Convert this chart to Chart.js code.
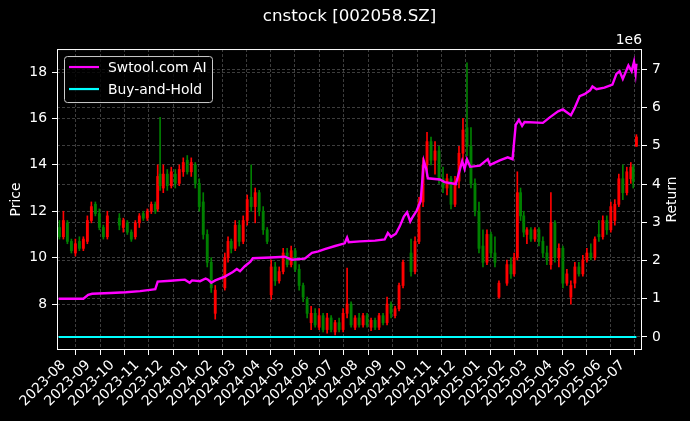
<!DOCTYPE html>
<html>
<head>
<meta charset="utf-8">
<script src="https://cdn.jsdelivr.net/npm/chart.js@4.4.0/dist/chart.umd.min.js"></script>
<style>
html, body { margin: 0; padding: 0; background: #000; }
canvas { display: block; }
</style>
</head>
<body>
<canvas id="myChart" width="690" height="421"></canvas>
<script>
// candles (price, left axis)
var candleDates = [
  '2023-07-27','2023-08-01','2023-08-06','2023-08-11','2023-08-16','2023-08-21','2023-08-26','2023-08-31',
  '2023-09-05','2023-09-10','2023-09-15','2023-09-20','2023-09-25','2023-10-10','2023-10-15','2023-10-20',
  '2023-10-25','2023-10-30','2023-11-04','2023-11-09','2023-11-14','2023-11-19','2023-11-24','2023-11-27',
  '2023-11-30','2023-12-04','2023-12-09','2023-12-14','2023-12-19','2023-12-24','2023-12-29','2024-01-03',
  '2024-01-08','2024-01-13','2024-01-18','2024-01-23','2024-01-28','2024-02-02','2024-02-07','2024-02-19',
  '2024-02-23','2024-02-27','2024-03-03','2024-03-08','2024-03-13','2024-03-18','2024-03-23','2024-03-28',
  '2024-04-02','2024-04-07','2024-04-12','2024-04-17','2024-04-22','2024-04-27','2024-05-02','2024-05-07',
  '2024-05-12','2024-05-17','2024-05-22','2024-05-27','2024-06-01','2024-06-06','2024-06-11','2024-06-16',
  '2024-06-21','2024-06-26','2024-07-01','2024-07-06','2024-07-11','2024-07-16','2024-07-21','2024-07-26',
  '2024-07-31','2024-08-05','2024-08-10','2024-08-15','2024-08-20','2024-08-25','2024-08-30','2024-09-04',
  '2024-09-09','2024-09-14','2024-09-19','2024-09-24','2024-09-29','2024-10-09','2024-10-14','2024-10-19',
  '2024-10-24','2024-10-29','2024-11-03','2024-11-08','2024-11-13','2024-11-18','2024-11-23','2024-11-28',
  '2024-12-03','2024-12-08','2024-12-13','2024-12-18','2024-12-23','2024-12-28','2025-01-02','2025-01-07',
  '2025-01-12','2025-01-17','2025-01-22','2025-01-27','2025-02-06','2025-02-11','2025-02-15','2025-02-19',
  '2025-02-23','2025-02-27','2025-03-03','2025-03-08','2025-03-13','2025-03-18','2025-03-23','2025-03-28',
  '2025-04-02','2025-04-07','2025-04-12','2025-04-17','2025-04-22','2025-04-27','2025-05-02','2025-05-07',
  '2025-05-12','2025-05-17','2025-05-22','2025-05-27','2025-06-01','2025-06-06','2025-06-11','2025-06-16',
  '2025-06-21','2025-06-26','2025-07-01','2025-07-06','2025-07-11','2025-07-14','2025-07-18'
];
var openVals = [
  11.3,10.9,11.5,10.7,10.2,10.7,10.4,10.7, 11.6,12.3,11.9,11.3,10.9,11.7,11.3,11.5,
  11.1,10.9,11.5,11.9,11.7,12.0,12.3,12.1, 13.6,13.0,13.6,13.1,13.6,13.2,13.7,14.2,
  13.7,14.0,13.2,12.4,11.0,9.8,7.6,8.7, 10.0,10.7,10.4,11.4,10.7,11.6,12.6,12.2,
  12.8,12.0,11.2,8.4,9.6,9.0,9.4,10.2, 9.7,10.3,9.5,8.8,8.2,7.2,7.6,7.0,
  7.5,6.9,7.4,6.8,7.2,6.9,7.6,8.0, 7.0,7.4,7.1,7.5,7.0,7.3,7.0,7.5,
  7.2,8.0,7.5,7.8,8.8,10.2,9.4,10.7, 12.4,14.0,15.0,14.2,14.6,13.4,13.0,13.4,
  12.3,13.3,14.5,15.6,14.8,13.2,12.0,10.5, 9.8,11.0,10.2,8.3,8.9,9.7,9.3,10.0,
  12.8,11.8,11.0,11.2,10.8,11.2,10.7,10.2, 9.7,11.5,10.0,10.4,8.9,8.3,8.9,9.6,
  9.3,9.9,10.2,10.0,11.0,10.9,11.6,11.2, 11.6,12.3,13.4,12.8,13.4,13.9,14.8
];
var highVals = [
  11.6,12.0,11.6,10.8,10.8,10.9,10.9,11.8, 12.4,12.4,12.1,11.4,12.0,11.9,11.7,11.6,
  11.2,11.6,11.9,12.0,12.1,12.4,12.4,14.0, 16.05,14.0,13.8,13.9,13.8,14.0,14.3,14.4,
  14.3,14.1,13.4,12.8,11.2,10.0,8.8,10.2, 10.9,10.8,11.6,11.6,11.8,12.7,14.0,13.0,
  12.9,12.2,11.3,9.9,9.8,9.6,10.4,10.4, 10.5,10.4,9.7,8.9,8.3,7.9,7.8,7.8,
  7.6,7.6,7.5,7.3,7.4,7.8,9.55,8.1, 7.5,7.6,7.6,7.6,7.4,7.4,7.6,7.6,
  8.3,8.1,7.9,8.9,9.9,10.8,10.9,12.6, 14.3,15.4,15.2,15.0,14.8,13.9,13.6,13.5,
  13.5,14.8,16.0,18.4,15.6,13.4,12.4,11.2, 11.2,11.1,10.9,9.0,9.9,10.0,10.2,13.7,
  13.0,12.0,11.3,11.3,11.3,11.3,10.9,10.5, 12.8,11.6,10.6,10.5,9.5,9.0,9.8,9.8,
  10.1,10.4,10.6,10.9,11.6,11.8,11.8,12.4, 12.5,13.6,14.0,13.9,14.1,14.0,15.3
];
var lowVals = [
  10.8,10.8,10.6,10.2,10.07,10.3,10.3,10.6, 11.5,11.8,11.2,10.8,10.8,11.2,11.1,11.0,
  10.7,10.8,11.3,11.6,11.6,11.9,11.9,12.0, 12.9,12.8,12.9,13.0,13.0,13.1,13.5,13.6,
  13.5,13.0,12.0,10.8,9.6,8.5,7.35,8.6, 9.8,10.2,10.3,10.5,10.6,11.4,12.0,11.5,
  11.8,11.0,10.6,8.2,8.8,8.9,9.3,9.6, 9.6,9.4,8.6,8.1,7.4,6.9,7.0,6.9,
  6.8,6.75,6.8,6.67,6.8,6.8,7.4,7.0, 6.9,7.0,7.0,7.0,6.85,6.9,6.9,7.1,
  7.1,7.4,7.4,7.7,8.7,9.2,9.3,10.6, 12.2,13.5,14.0,13.6,13.2,12.8,12.7,12.1,
  12.2,13.0,14.2,14.4,13.0,11.8,10.2,9.6, 9.7,10.0,9.6,8.25,8.8,9.1,9.2,9.9,
  11.6,10.9,10.6,10.7,10.7,10.5,10.0,9.7, 9.5,9.8,9.6,8.7,8.8,8.0,8.7,9.2,
  9.2,9.8,9.9,9.9,10.7,10.8,11.0,11.1, 11.4,12.2,12.5,12.7,13.2,13.0,14.8
];
var closeVals = [
  10.9,11.6,10.7,10.3,10.6,10.4,10.8,11.6, 12.2,11.9,11.3,10.9,11.8,11.4,11.6,11.1,
  10.8,11.5,11.8,11.7,12.0,12.3,12.0,13.5, 13.1,13.6,13.1,13.7,13.2,13.8,14.1,13.7,
  14.1,13.2,12.2,11.0,9.8,8.7,8.6,10.0, 10.7,10.4,11.4,10.7,11.6,12.5,12.2,12.8,
  12.0,11.2,10.7,9.6,9.0,9.4,10.2,9.7, 10.3,9.5,8.8,8.3,7.6,7.6,7.1,7.5,
  6.9,7.4,6.9,7.2,6.9,7.6,8.0,7.1, 7.4,7.1,7.5,7.1,7.3,7.0,7.5,7.2,
  8.0,7.6,7.8,8.8,9.8,9.4,10.7,12.4, 14.0,15.0,14.2,14.6,13.4,13.0,13.4,12.3,
  13.3,14.5,15.5,14.8,13.2,12.0,10.4,9.8, 11.0,10.2,9.8,8.9,9.7,9.3,10.0,12.8,
  11.8,11.1,11.2,10.8,11.2,10.7,10.2,9.9, 11.5,10.0,10.4,8.9,9.3,8.8,9.6,9.3,
  9.9,10.2,10.0,10.8,10.9,11.6,11.2,12.2, 12.3,13.4,12.8,13.7,13.9,13.3,15.2
];

// strategy equity (right axis)
var retDates = [
  '2023-07-26','2023-08-26','2023-09-01','2023-09-06','2023-09-29','2023-10-18','2023-11-05','2023-11-20',
  '2023-11-24','2023-11-27','2023-12-13','2023-12-31','2024-01-06','2024-01-09','2024-01-19','2024-01-26',
  '2024-01-29','2024-02-02','2024-02-07','2024-02-19','2024-02-29','2024-03-05','2024-03-09','2024-03-15',
  '2024-03-22','2024-03-25','2024-04-16','2024-05-04','2024-05-13','2024-05-29','2024-06-07','2024-06-15',
  '2024-06-23','2024-07-06','2024-07-18','2024-07-21','2024-07-23','2024-08-06','2024-08-25','2024-09-06',
  '2024-09-10','2024-09-14','2024-09-20','2024-09-25','2024-09-30','2024-10-04','2024-10-08','2024-10-10',
  '2024-10-16','2024-10-21','2024-10-25','2024-10-28','2024-10-30','2024-11-14','2024-11-20','2024-12-04',
  '2024-12-08','2024-12-12','2024-12-15','2024-12-18','2024-12-22','2025-01-03','2025-01-13','2025-01-16',
  '2025-01-28','2025-02-07','2025-02-13','2025-02-17','2025-02-21','2025-02-25','2025-02-28','2025-03-23',
  '2025-04-01','2025-04-11','2025-04-17','2025-04-27','2025-05-02','2025-05-08','2025-05-14','2025-05-21',
  '2025-05-24','2025-05-29','2025-06-08','2025-06-18','2025-06-23','2025-06-27','2025-07-01','2025-07-05',
  '2025-07-08','2025-07-12','2025-07-15','2025-07-17','2025-07-18'
];
var retVals = [
  1.00e6,1.00e6,1.10e6,1.13e6,1.15e6,1.17e6,1.20e6,1.24e6,
  1.25e6,1.45e6,1.47e6,1.50e6,1.42e6,1.48e6,1.46e6,1.53e6,
  1.50e6,1.42e6,1.48e6,1.58e6,1.70e6,1.78e6,1.72e6,1.85e6,
  1.97e6,2.06e6,2.08e6,2.10e6,2.02e6,2.05e6,2.20e6,2.24e6,
  2.30e6,2.38e6,2.45e6,2.60e6,2.48e6,2.50e6,2.52e6,2.55e6,
  2.72e6,2.62e6,2.70e6,2.90e6,3.15e6,3.26e6,3.02e6,3.10e6,
  3.30e6,3.55e6,4.60e6,4.40e6,4.15e6,4.12e6,4.05e6,4.00e6,
  4.30e6,4.60e6,4.40e6,4.65e6,4.45e6,4.48e6,4.65e6,4.50e6,
  4.62e6,4.70e6,4.65e6,5.55e6,5.68e6,5.52e6,5.62e6,5.60e6,
  5.75e6,5.90e6,5.95e6,5.80e6,6.00e6,6.30e6,6.35e6,6.45e6,
  6.55e6,6.48e6,6.52e6,6.60e6,6.88e6,6.95e6,6.75e6,6.95e6,
  7.10e6,6.95e6,7.20e6,6.90e6,7.15e6
];
var bhDates = ['2023-07-26', '2025-07-18'];
var bhVals = [0, 0];

var monthTicks = [
  '2023-08','2023-09','2023-10','2023-11','2023-12','2024-01','2024-02','2024-03','2024-04','2024-05',
  '2024-06','2024-07','2024-08','2024-09','2024-10','2024-11','2024-12','2025-01','2025-02','2025-03',
  '2025-04','2025-05','2025-06','2025-07'
];
var priceTicks = [8, 10, 12, 14, 16, 18];
var returnTicks = [0, 1e6, 2e6, 3e6, 4e6, 5e6, 6e6, 7e6];

var FONT = 'DejaVu Sans';
var gridColor = 'rgba(255,255,255,0.3)';

function dayNum(s) {
    var p = s.split('-');
    return Date.UTC(+p[0], +p[1] - 1, p[2] ? +p[2] : 1) / 86400000;
}

function candleColor(i) {
    return closeVals[i] >= openVals[i] ? '#ff0000' : '#008000';
}

var wickData = candleDates.map(function(d, i) { return {x: dayNum(d), y: [lowVals[i], highVals[i]]}; });
var bodyData = candleDates.map(function(d, i) { return {x: dayNum(d), y: [openVals[i], closeVals[i]]}; });
var retData = retDates.map(function(d, i) { return {x: dayNum(d), y: retVals[i]}; });
var bhData = bhDates.map(function(d, i) { return {x: dayNum(d), y: bhVals[i]}; });

var bgFrame = {
    id: 'bgFrame',
    beforeDraw: function(chart) {
        var c = chart.ctx;
        c.save();
        c.fillStyle = '#000';
        c.fillRect(0, 0, chart.width, chart.height);
        c.restore();
    },
    afterDraw: function(chart) {
        var c = chart.ctx, a = chart.chartArea;
        c.save();
        c.strokeStyle = '#fff';
        c.lineWidth = 1;
        c.strokeRect(a.left + 0.5, a.top + 0.5, a.right - a.left - 1, a.bottom - a.top - 1);

        c.fillStyle = '#fff';
        c.font = '13.9px "' + FONT + '"';

        // offset text of the right axis
        c.textAlign = 'right';
        c.textBaseline = 'bottom';
        c.fillText('1e6', a.right, a.top - 2);

        // right axis title, reading bottom to top like matplotlib
        c.save();
        c.translate(672.5, (a.top + a.bottom) / 2);
        c.rotate(-Math.PI / 2);
        c.textAlign = 'center';
        c.textBaseline = 'middle';
        c.fillText('Return', 0, 0);
        c.restore();

        // legend
        var lx = a.left + 7, ly = a.top + 7, lw = 148, lh = 46;
        c.beginPath();
        c.roundRect(lx + 0.5, ly + 0.5, lw, lh, 3);
        c.fillStyle = 'rgba(0,0,0,0.8)';
        c.fill();
        c.strokeStyle = '#cccccc';
        c.stroke();
        var items = [['Swtool.com AI', '#ff00ff'], ['Buy-and-Hold', '#00ffff']];
        items.forEach(function(it, k) {
            var yy = ly + 11 + k * 22;
            c.strokeStyle = it[1];
            c.lineWidth = 2.2;
            c.beginPath();
            c.moveTo(lx + 5, yy);
            c.lineTo(lx + 35, yy);
            c.stroke();
            c.fillStyle = '#fff';
            c.textAlign = 'left';
            c.textBaseline = 'middle';
            c.fillText(it[0], lx + 44, yy + 1);
        });
        c.restore();
    }
};

var ctx = document.getElementById('myChart').getContext('2d');
var myChart = new Chart(ctx, {
    type: 'bar',
    data: {
        datasets: [
            {
                type: 'line',
                label: 'Swtool.com AI',
                data: retData,
                yAxisID: 'y1',
                borderColor: '#ff00ff',
                borderWidth: 2.4,
                pointRadius: 0,
                tension: 0,
                order: 0
            },
            {
                type: 'line',
                label: 'Buy-and-Hold',
                data: bhData,
                yAxisID: 'y1',
                borderColor: '#00ffff',
                borderWidth: 2.2,
                pointRadius: 0,
                order: 0
            },
            {
                label: 'wick',
                data: wickData,
                yAxisID: 'y',
                grouped: false,
                barThickness: 1,
                backgroundColor: candleDates.map(function(d, i) { return candleColor(i); }),
                order: 2
            },
            {
                label: 'body',
                data: bodyData,
                yAxisID: 'y',
                grouped: false,
                barThickness: 2.2,
                backgroundColor: candleDates.map(function(d, i) { return candleColor(i); }),
                order: 1
            }
        ]
    },
    options: {
        responsive: false,
        animation: false,
        devicePixelRatio: 1,
        layout: { padding: 0 },
        plugins: {
            legend: { display: false },
            tooltip: { enabled: false },
            title: {
                display: true,
                text: 'cnstock [002058.SZ]',
                color: '#fff',
                fullSize: false,
                font: { family: FONT, size: 16.7, weight: 'normal' },
                padding: { top: 7, bottom: 22 }
            }
        },
        scales: {
            x: {
                type: 'linear',
                offset: false,
                min: dayNum('2023-07-24'),
                max: dayNum('2025-07-25'),
                afterBuildTicks: function(s) {
                    s.ticks = monthTicks.map(function(m) { return {value: dayNum(m)}; });
                },
                afterFit: function(s) { s.height = 71; },
                ticks: {
                    color: '#fff',
                    autoSkip: false,
                    minRotation: 45,
                    maxRotation: 45,
                    padding: 2,
                    font: { family: FONT, size: 13.9 },
                    callback: function(v) {
                        var dt = new Date(v * 86400000);
                        return dt.getUTCFullYear() + '-' + String(dt.getUTCMonth() + 1).padStart(2, '0');
                    }
                },
                grid: { color: gridColor, lineWidth: 0.8, tickColor: '#fff', tickLength: 5, tickWidth: 1 },
                border: { display: false, dash: [3, 2] }
            },
            y: {
                position: 'left',
                min: 6.02,
                max: 18.99,
                afterBuildTicks: function(s) {
                    s.ticks = priceTicks.map(function(v) { return {value: v}; });
                },
                afterFit: function(s) { s.width = 57; },
                title: {
                    display: true, text: 'Price', color: '#fff',
                    font: { family: FONT, size: 13.9 },
                    padding: { top: 8, bottom: 0 }
                },
                ticks: { color: '#fff', padding: 5, font: { family: FONT, size: 13.9 } },
                grid: { color: gridColor, lineWidth: 0.8, tickColor: '#fff', tickLength: 5, tickWidth: 1 },
                border: { display: false, dash: [3, 2] }
            },
            y1: {
                position: 'right',
                min: -0.34e6,
                max: 7.53e6,
                afterBuildTicks: function(s) {
                    s.ticks = returnTicks.map(function(v) { return {value: v}; });
                },
                afterFit: function(s) { s.width = 48; },
                ticks: {
                    color: '#fff', padding: 5, font: { family: FONT, size: 13.9 },
                    callback: function(v) { return String(Math.round(v / 1e6)); }
                },
                grid: { color: gridColor, lineWidth: 0.8, tickColor: '#fff', tickLength: 5, tickWidth: 1 },
                border: { display: false, dash: [3, 2] }
            }
        }
    },
    plugins: [bgFrame]
});
</script>
</body>
</html>
